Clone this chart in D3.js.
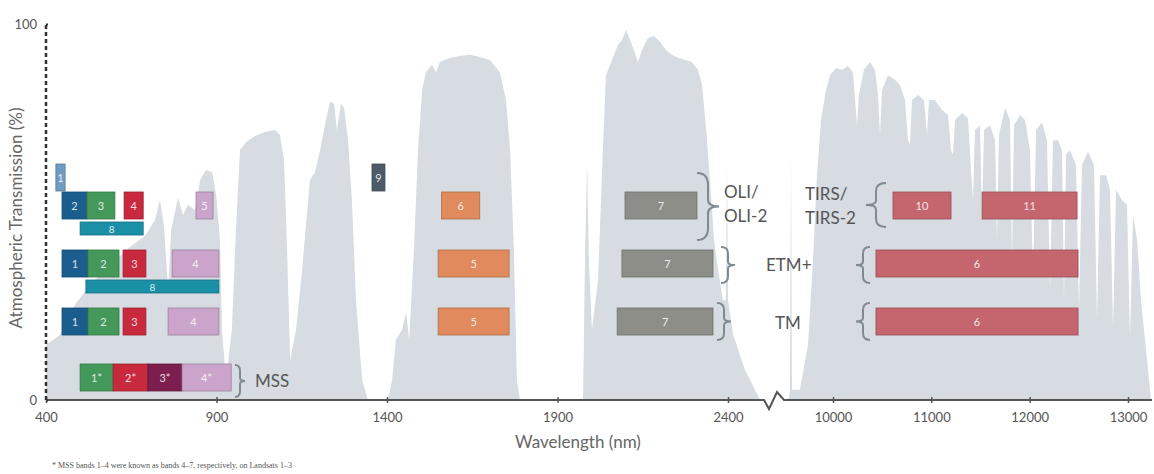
<!DOCTYPE html>
<html>
<head>
<meta charset="utf-8">
<script src="https://cdn.jsdelivr.net/npm/d3@7"></script>
<style>
body { margin: 0; background: #fff; }
svg { display: block; }
</style>
</head>
<body>
<svg id="chart" width="1154" height="474"></svg>
<script>
// atmospheric transmission (wavelength nm, %)
let visWl = [400,441,485,529,588,646,690,720,734,746,758,767,787,802,816,837,852,869,887,899,910,916,928,945,957,969,987,1013,1042,1072,1086,1098,1107,1116,1133,1151,1174,1189,1204,1221,1233,1245,1253,1265,1274,1286,1297,1309,1327,1344,1403,1415,1426,1444,1456,1465,1479,1491,1503,1514,1532,1544,1555,1585,1614,1643,1673,1702,1731,1749,1761,1772,1781,1790,1975,1981,1987,1992,2001,2019,2033,2042,2060,2077,2089,2101,2113,2124,2136,2148,2165,2183,2201,2218,2236,2253,2277,2294,2312,2324,2336,2347,2359,2371,2385,2394,2397,2400,2415,2450,2479,2494];
let visT  = [14.6,17.3,25.3,30.6,35.9,40.7,43.6,47.9,53.2,46.5,29.3,45.2,53.7,49.2,51.9,50.5,58.5,61.2,60.6,54.5,42.6,18.6,5.3,18.6,45.2,66.5,68.6,70.2,71.3,71.8,70.5,63.8,39.9,10.6,18.6,34.6,58.5,60.6,66.5,74.5,79.3,78.7,71.8,78.7,77.7,69.1,53.2,26.6,5.3,0,0,5.3,16.0,18.6,23.4,16.0,39.9,66.5,82.4,87.2,89.1,87.2,89.9,91.0,91.5,91.8,91.2,90.4,87.2,79.8,66.5,39.9,5.3,0,0,39.9,62.5,37.2,18.6,31.9,66.5,86.4,90.4,94.4,95.7,98.4,95.7,93.1,89.9,93.1,96.3,96.8,95.2,93.1,91.8,91.0,90.4,89.9,87.8,83.8,71.8,58.5,42.6,34.6,26.6,26.6,63.0,26.6,17.3,8.0,2.7,0];

let tirWl = [9512,9553,9563,9573,9583,9664,9746,9797,9837,9878,9929,9969,10031,10092,10153,10203,10224,10244,10264,10315,10376,10427,10458,10478,10498,10559,10631,10681,10732,10763,10783,10803,10864,10925,10956,10976,11037,11109,11170,11200,11220,11241,11312,11373,11403,11424,11444,11495,11515,11536,11597,11648,11668,11688,11749,11800,11820,11841,11902,11953,12003,12034,12065,12126,12176,12207,12237,12288,12329,12349,12370,12410,12471,12502,12532,12593,12654,12685,12715,12776,12817,12848,12878,12939,12990,13020,13051,13092,13132,13173,13204,13234];
let tirT  = [0,0.5,2.7,66.5,2.7,2.7,14.6,37.2,59.8,74.5,82.4,86.4,88.3,87.8,88.8,87.2,79.8,73.1,81.1,87.8,89.9,87.8,81.1,70.5,82.4,86.4,85.1,83.8,79.8,69.1,67.8,79.8,81.1,79.8,70.5,79.8,79.8,77.1,75.8,66.5,65.2,74.5,76.3,75.0,61.2,53.2,71.8,73.1,47.9,71.8,73.1,69.1,42.6,70.5,77.7,74.5,37.2,73.1,75.8,74.5,66.5,31.9,71.8,73.9,69.1,29.3,69.1,69.1,66.5,26.6,65.2,66.5,62.5,23.9,62.5,66.0,62.5,21.3,59.8,59.8,55.9,18.6,55.9,53.2,51.9,16.0,49.2,42.6,26.6,16.0,8.0,0];

// bands per sensor: label, from nm, to nm, kind
let oliBands = [
    {band: "1", from: 429, to: 456, kind: "coastal"},
    {band: "2", from: 447, to: 520, kind: "blue"},
    {band: "3", from: 520, to: 602, kind: "green"},
    {band: "4", from: 629, to: 685, kind: "red"},
    {band: "5", from: 840, to: 890, kind: "nir"},
    {band: "8", from: 500, to: 685, kind: "pan"},
    {band: "9", from: 1356, to: 1394, kind: "cirrus"},
    {band: "6", from: 1560, to: 1672, kind: "swir1"},
    {band: "7", from: 2098, to: 2309, kind: "swir2"},
    {band: "10", from: 10610, to: 11200, kind: "tir"},
    {band: "11", from: 11516, to: 12482, kind: "tir"}
];
let etmBands = [
    {band: "1", from: 447, to: 523, kind: "blue"},
    {band: "2", from: 523, to: 614, kind: "green"},
    {band: "3", from: 626, to: 693, kind: "red"},
    {band: "4", from: 770, to: 907, kind: "nir"},
    {band: "8", from: 517, to: 907, kind: "pan"},
    {band: "5", from: 1550, to: 1758, kind: "swir1"},
    {band: "7", from: 2089, to: 2356, kind: "swir2"},
    {band: "6", from: 10437, to: 12492, kind: "tir"}
];
let tmBands = [
    {band: "1", from: 447, to: 523, kind: "blue"},
    {band: "2", from: 523, to: 614, kind: "green"},
    {band: "3", from: 626, to: 693, kind: "red"},
    {band: "4", from: 758, to: 907, kind: "nir"},
    {band: "5", from: 1550, to: 1758, kind: "swir1"},
    {band: "7", from: 2075, to: 2356, kind: "swir2"},
    {band: "6", from: 10437, to: 12492, kind: "tir"}
];
let mssBands = [
    {band: "1*", from: 500, to: 597, kind: "green"},
    {band: "2*", from: 597, to: 699, kind: "red"},
    {band: "3*", from: 699, to: 799, kind: "plum"},
    {band: "4*", from: 799, to: 943, kind: "nir"}
];

let visTicks = [400, 900, 1400, 1900, 2400];
let tirTicks = [10000, 11000, 12000, 13000];
let yTicks = [0, 100];

let bandColors = {
    coastal: "#6f9cc0", blue: "#1b5e8e", green: "#44985a", red: "#c9293d",
    nir: "#caa4ca", pan: "#1b8fa5", cirrus: "#4d5b69", swir1: "#e08a5d",
    swir2: "#8c8e87", tir: "#c5656d", plum: "#7c1f4f"
};

let svg = d3.select("#chart");
let font = "Lato, 'Open Sans', sans-serif";

let xL = d3.scaleLinear().domain([400, 2400]).range([46, 728]);
let xR = d3.scaleLinear().domain([10000, 13000]).range([833, 1128]);
let y = d3.scaleLinear().domain([0, 100]).range([400, 24]);
let xPos = nm => nm < 5000 ? xL(nm) : xR(nm);

// transmission curve
let area = d3.area()
    .x(d => xPos(d[0]))
    .y0(y(0))
    .y1(d => y(d[1]));

svg.append("path")
    .attr("d", area(d3.zip(visWl, visT)))
    .attr("fill", "#d6dce1");
svg.append("path")
    .attr("d", area(d3.zip(tirWl, tirT)))
    .attr("fill", "#d6dce1");

// band rows (pixel tops)
let rows = {oli: 192, etm: 250, tm: 308, mss: 364};
let rowH = 27;

function drawBands(data, top){
    let g = svg.append("g");
    let place = d => {
        if (d.kind === "coastal" || d.kind === "cirrus") return {t: top - 28, h: rowH};
        if (d.kind === "pan") return {t: top + rowH + 3, h: 13};
        return {t: top, h: rowH};
    };
    let b = g.selectAll("g")
        .data(data)
        .enter().append("g");
    b.append("rect")
        .attr("x", d => xPos(d.from))
        .attr("y", d => place(d).t)
        .attr("width", d => xPos(d.to) - xPos(d.from))
        .attr("height", d => place(d).h)
        .attr("fill", d => bandColors[d.kind])
        .attr("stroke", d => d3.color(bandColors[d.kind]).darker(0.7))
        .attr("stroke-width", 0.8);
    b.append("text")
        .attr("x", d => (xPos(d.from) + xPos(d.to)) / 2)
        .attr("y", d => place(d).t + place(d).h / 2 + 4)
        .attr("text-anchor", "middle")
        .attr("font-family", font)
        .attr("font-size", d => d.kind === "pan" ? 10 : 11)
        .attr("fill", "#fff")
        .attr("fill-opacity", 0.85)
        .text(d => d.band);
}
drawBands(oliBands, rows.oli);
drawBands(etmBands, rows.etm);
drawBands(tmBands, rows.tm);
drawBands(mssBands, rows.mss);

// curly braces
function brace(x, top, bottom, w){
    let m = (top + bottom) / 2, h = bottom - top, c = x + w / 2;
    return "M" + x + "," + top +
        " Q" + c + "," + top + " " + c + "," + (top + 0.18 * h) +
        " L" + c + "," + (m - 0.1 * h) +
        " Q" + c + "," + m + " " + (x + w) + "," + m +
        " Q" + c + "," + m + " " + c + "," + (m + 0.1 * h) +
        " L" + c + "," + (bottom - 0.18 * h) +
        " Q" + c + "," + bottom + " " + x + "," + bottom;
}
let braces = [
    [697, 173, 240, 22], [721, 247, 283, 14], [717, 303, 340, 14],
    [886, 183, 227, -20], [870, 247, 283, -14], [870, 303, 340, -14],
    [235, 365, 397, 10]
];
svg.selectAll(".brace")
    .data(braces)
    .enter().append("path")
    .attr("class", "brace")
    .attr("d", d => brace(d[0], d[1], d[2], d[3]))
    .attr("fill", "none")
    .attr("stroke", "#808a91")
    .attr("stroke-width", 2);

let sensorLabels = [
    ["OLI/", 724, 198], ["OLI-2", 724, 222],
    ["TIRS/", 805, 200], ["TIRS-2", 805, 224],
    ["ETM+", 766, 271], ["TM", 775, 329], ["MSS", 255, 387]
];
svg.selectAll(".sensor")
    .data(sensorLabels)
    .enter().append("text")
    .attr("class", "sensor")
    .attr("x", d => d[1])
    .attr("y", d => d[2])
    .attr("font-family", font)
    .attr("font-size", 17)
    .attr("fill", "#555")
    .text(d => d[0]);

// x axes
function styleAxis(g){
    g.select(".domain").remove();
    g.selectAll("line").attr("stroke", "#555").attr("stroke-width", 1.5).attr("y1", -3);
    g.selectAll("text").attr("font-family", font).attr("font-size", 13).attr("fill", "#555");
}
svg.append("g")
    .attr("transform", "translate(0," + y(0) + ")")
    .call(d3.axisBottom(xL).tickValues(visTicks).tickSize(3).tickPadding(10).tickFormat(d3.format("d")))
    .call(styleAxis);
svg.append("g")
    .attr("transform", "translate(0," + y(0) + ")")
    .call(d3.axisBottom(xR).tickValues(tirTicks).tickSize(3).tickPadding(10).tickFormat(d3.format("d")))
    .call(styleAxis);

// axis line with break
let axisX = xL(400), axisY = y(0);
svg.append("path")
    .attr("d", "M" + axisX + "," + axisY + " L764," + axisY + " L769," + (axisY + 9) + " L777," + (axisY - 8) + " L784," + axisY + " L1152," + axisY)
    .attr("fill", "none")
    .attr("stroke", "#555")
    .attr("stroke-width", 2);

// y axis, dashed
svg.append("path")
    .attr("d", "M" + axisX + "," + y(0) + " V" + y(100))
    .attr("fill", "none")
    .attr("stroke", "#333")
    .attr("stroke-width", 2.5)
    .attr("stroke-dasharray", "4 3");
let ya = svg.append("g")
    .attr("transform", "translate(" + axisX + ",0)")
    .call(d3.axisLeft(y).tickValues(yTicks).tickSize(4).tickPadding(5));
ya.select(".domain").remove();
ya.selectAll("line").attr("stroke", "#333").attr("stroke-width", 2).attr("x2", 2);
ya.selectAll("text").attr("font-family", font).attr("font-size", 13).attr("fill", "#555");

// titles
svg.append("text")
    .attr("transform", "translate(22,218) rotate(-90)")
    .attr("text-anchor", "middle")
    .attr("font-family", font)
    .attr("font-size", 17)
    .attr("fill", "#666")
    .text("Atmospheric Transmission (%)");
svg.append("text")
    .attr("x", 578)
    .attr("y", 448)
    .attr("text-anchor", "middle")
    .attr("font-family", font)
    .attr("font-size", 17)
    .attr("fill", "#666")
    .text("Wavelength (nm)");
svg.append("text")
    .attr("x", 52)
    .attr("y", 468)
    .attr("font-family", "'Liberation Serif', serif")
    .attr("font-size", 8)
    .attr("fill", "#555")
    .text("* MSS bands 1\u20134 were known as bands 4\u20137, respectively, on Landsats 1\u20133");
</script>
</body>
</html>
